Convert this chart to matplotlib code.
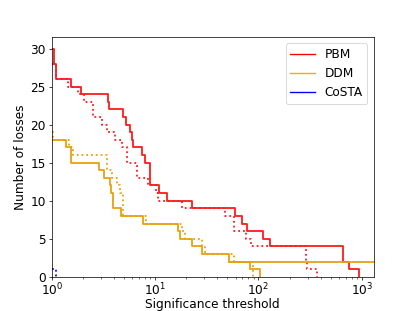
import matplotlib
matplotlib.use("Agg")
import matplotlib.pyplot as plt
from matplotlib.lines import Line2D

# PBM
pbm_x = [1, 1.045, 1.10, 1.53, 1.91, 3.5, 3.6, 4.85, 5.23, 5.72, 5.98, 6.1, 7.43, 8.0, 8.94,
         11.0, 13.0, 22.7, 59.8, 69.4, 77.6, 110, 128, 658, 753, 942]
pbm_y = [30, 28, 26, 25, 24, 23, 22, 21, 20, 19, 18, 17, 16, 15, 12, 11, 10, 9, 8, 7, 6, 5, 4, 2, 1, 0]
pbm_dot_x = [1, 1.09, 1.44, 1.79, 2.04, 2.52, 3.04, 3.39, 4.08, 4.74, 5.3, 6.6, 8.6, 10.2, 10.7,
             18.1, 47.7, 57.4, 75, 84, 290, 298, 366]
pbm_dot_y = [28, 26, 25, 24, 23, 21, 20, 19, 18, 17, 15, 13, 12, 11, 10, 9, 8, 6, 5, 4, 2, 1, 0]

# DDM
ddm_x = [1, 1.36, 1.53, 2.86, 3.22, 3.66, 3.75, 3.94, 4.64, 7.7, 16.8, 17.5, 22.7, 28.4, 51.5, 83.7, 104.5]
ddm_y = [18, 17, 15, 14, 13, 12, 11, 9, 8, 7, 6, 5, 4, 3, 2, 1, 0]
ddm_tail_x = [51.5, 1300]
ddm_tail_y = [2, 2]
ddm_dot_x = [1, 1.02, 1.47, 1.61, 3.39, 3.45, 3.8, 4.25, 4.57, 4.92, 8.17, 18.1, 19.5, 28.4, 30.5, 58, 89]
ddm_dot_y = [19, 18, 17, 16, 15, 14, 13, 12, 11, 8, 7, 6, 5, 4, 3, 2, 0]

# CoSTA
costa_dot_x = [1, 1.1]
costa_dot_y = [1, 0]

labels = ["PBM", "DDM", "CoSTA"]
colors = ["red", "orange", "blue"]
line_colors = ["#ff1a1a", "#e8a010", "blue"]

plt.rcParams["font.size"] = 13.5
fig = plt.figure(figsize=(6.4, 4.8), dpi=415 / 6.4)
ax = fig.add_subplot(111)
lw = 2
ax.step(pbm_x, pbm_y, where="post", color=line_colors[0], lw=lw)
ax.step(pbm_dot_x, pbm_dot_y, where="post", color=line_colors[0], lw=lw, ls=":")
ax.step(ddm_x, ddm_y, where="post", color=line_colors[1], lw=lw)
ax.plot(ddm_tail_x, ddm_tail_y, color=line_colors[1], lw=lw)
ax.step(ddm_dot_x, ddm_dot_y, where="post", color=line_colors[1], lw=lw, ls=":")
ax.step(costa_dot_x, costa_dot_y, where="post", color=line_colors[2], lw=lw, ls=":")

ax.set_xscale("log")
ax.set_xlim(1, 1300)
ax.set_ylim(0, 31.5)
ax.tick_params(axis="x", which="major", pad=1.5)
ax.set_xlabel("Significance threshold", labelpad=0)
ax.set_ylabel("Number of losses", labelpad=3)
handles = [Line2D([0], [0], color=c, lw=1.5) for c in colors]
ax.legend(handles, labels, loc="upper right")
fig.savefig("out.png", dpi=415 / 6.4)
